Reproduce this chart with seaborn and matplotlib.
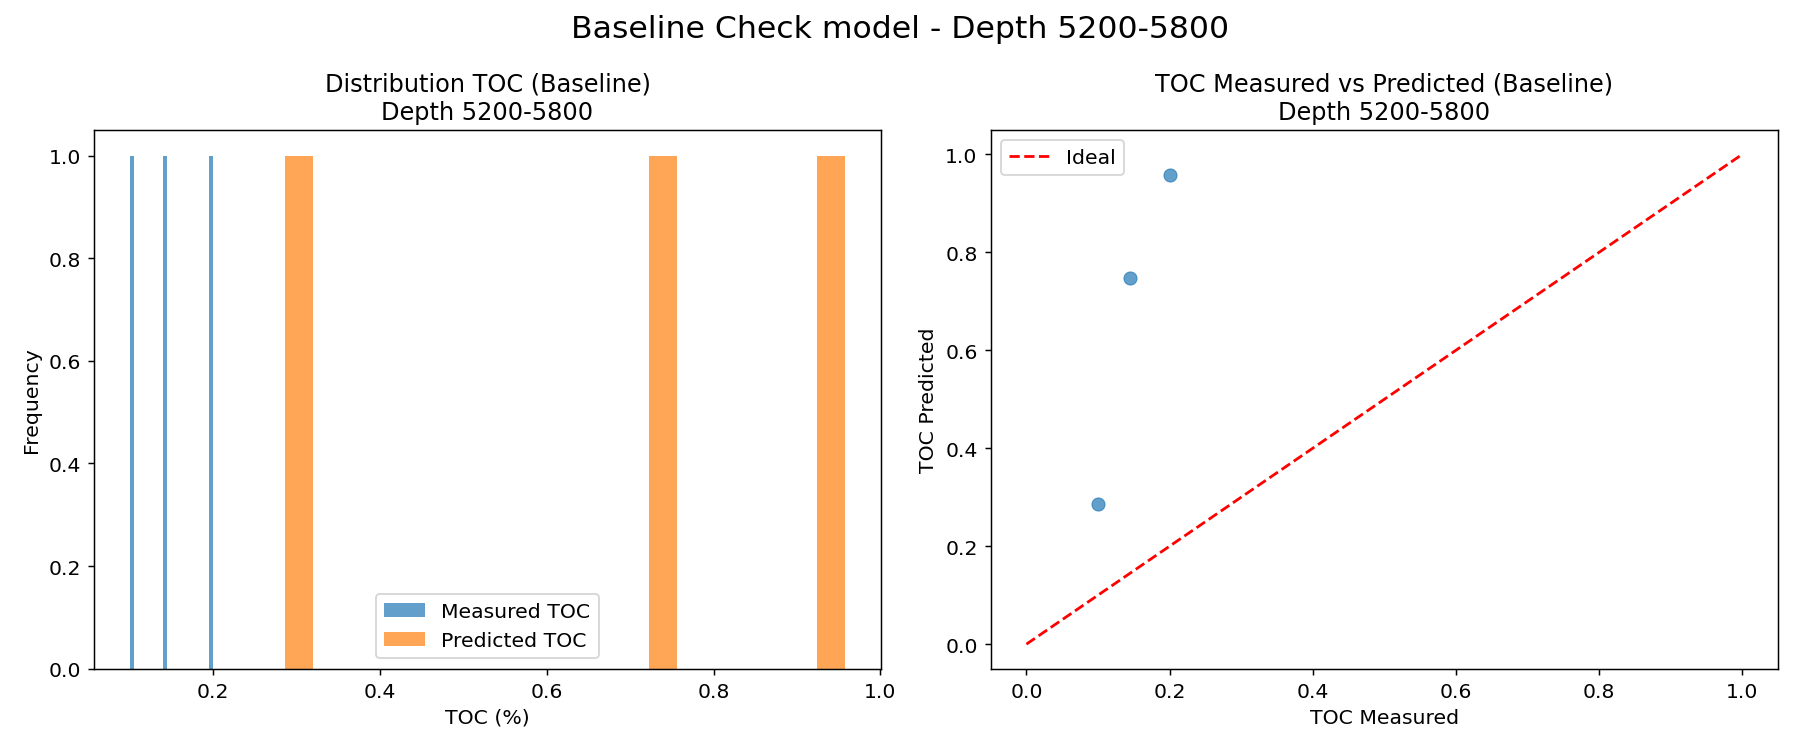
import matplotlib
matplotlib.use("Agg")
import matplotlib.pyplot as plt
import seaborn as sns

plt.rcParams['font.size'] = 11

measured = [0.100, 0.145, 0.200]
predicted = [0.286, 0.748, 0.958]

fig, axes = plt.subplots(1, 2, figsize=(13.5, 5.625), dpi=133.33)
ax = axes[0]
sns.histplot(x=measured, bins=20, ax=ax, color="#1f77b4", alpha=0.7, edgecolor=None, linewidth=0, label="Measured TOC")
sns.histplot(x=predicted, bins=20, ax=ax, color="#ff7f0e", alpha=0.7, edgecolor=None, linewidth=0, label="Predicted TOC")
ax.set_title("Distribution TOC (Baseline)\nDepth 5200-5800", fontsize=13)
ax.set_xlabel("TOC (%)")
ax.set_ylabel("Frequency")
ax.legend(loc="lower center", fontsize=11)

ax = axes[1]
sns.scatterplot(x=measured, y=predicted, ax=ax, alpha=0.7, s=50, color="#1f77b4", edgecolor="#1f77b4")
ax.plot([0, 1], [0, 1], "r--", label="Ideal", lw=1.5)
ax.set_title("TOC Measured vs Predicted (Baseline)\nDepth 5200-5800", fontsize=13)
ax.set_xlabel("TOC Measured")
ax.set_ylabel("TOC Predicted")
ax.legend(loc="upper left", fontsize=11)

fig.suptitle("Baseline Check model - Depth 5200-5800", fontsize=17)
fig.tight_layout()
fig.savefig("out.png")
